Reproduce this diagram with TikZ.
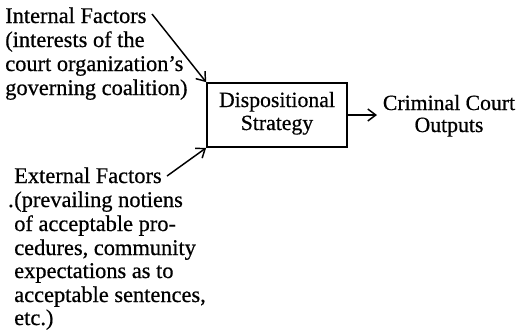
\documentclass[tikz,border=0pt]{standalone}
\usepackage{fontspec}
\setmainfont{Liberation Serif}[FakeBold=0.6]
\usetikzlibrary{arrows.meta}
\begin{document}
\begin{tikzpicture}[x=0.75pt,y=-0.75pt,
  txt/.style={inner sep=0pt,anchor=base west,font=\fontsize{16.8}{18}\selectfont},
  ctxt/.style={inner sep=0pt,anchor=base,font=\fontsize{16.3}{18}\selectfont},
  arr/.style={line width=1.1pt,-{Straight Barb[length=6pt,width=9pt,line width=1.1pt]}},
  boxst/.style={draw,line width=1.3pt,minimum width=105pt,minimum height=48pt,inner sep=0pt}]
\useasboundingbox (0,0) rectangle (520,330);
% top block
\node[txt] (i1) at (5,23) {Internal Factors};
\node[txt] (i2) at (5,47) {(interests of the};
\node[txt] (i3) at (5,71) {court organization’s};
\node[txt] (i4) at (5,95) {governing coalition)};
% bottom block
\node[txt] (e1) at (14,183) {External Factors};
\node[txt] (e2) at (14,207) {(prevailing notiens};
\node[txt,anchor=base east] (dot) at (e2.base west) {.};
\node[txt] (e3) at (14,231) {of acceptable pro-};
\node[txt] (e4) at (14,255) {cedures, community};
\node[txt] (e5) at (14,278) {expectations as to};
\node[txt] (e6) at (14,302) {acceptable sentences,};
\node[txt] (e7) at (14,325) {etc.)};
% box
\node[boxst] (box) at (277,115) {};
\node[ctxt] (b1) at (277,107) {Dispositional};
\node[ctxt] (b2) at (277,130) {Strategy};
% output
\node[ctxt] (o1) at (449,110) {Criminal Court};
\node[ctxt] (o2) at (449,132) {Outputs};
\coordinate (inS) at (152,14);
\coordinate (exS) at (167,176);
\coordinate (outE) at (377,115);
\draw[arr] (inS) -- (box.north west);
\draw[arr] (exS) -- (box.south west);
\draw[arr] (box.east) -- (outE);
\end{tikzpicture}
\end{document}
